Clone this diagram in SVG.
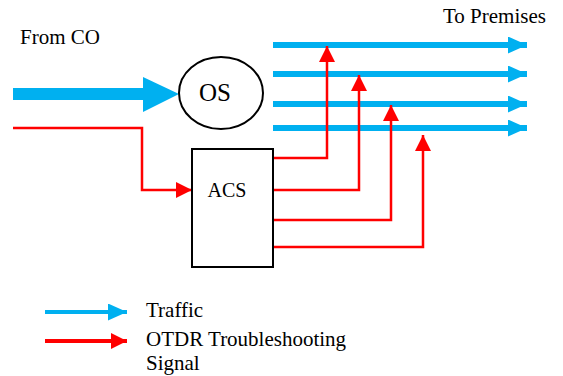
<svg xmlns="http://www.w3.org/2000/svg" width="563" height="376" viewBox="0 0 563 376">
  <style>
    .traffic { stroke: #00B0F0; fill: none; }
    .otdr { stroke: #FF0000; stroke-width: 2.5; fill: none; }
    .node { fill: #fff; stroke: #000; stroke-width: 2; }
  </style>
  <defs>
    <marker id="blueHead" markerUnits="userSpaceOnUse" markerWidth="19" markerHeight="17" refX="19" refY="8.5" orient="auto">
      <path d="M0,0 L19,8.5 L0,17 Z" fill="#00B0F0"/>
    </marker>
    <marker id="redHead" markerUnits="userSpaceOnUse" markerWidth="16" markerHeight="16" refX="16" refY="8" orient="auto">
      <path d="M0,0 L16,8 L0,16 Z" fill="#FF0000"/>
    </marker>
  </defs>

  <rect width="563" height="376" fill="#fff"/>

  <!-- connectors -->
  <g id="connectors">
    <!-- trunk feed from the central office -->
    <path d="M13,94 H144" stroke="#00B0F0" stroke-width="12" fill="none"/>
    <path d="M143,77 L179,94 L143,112 Z" fill="#00B0F0"/>

    <!-- traffic drops to premises -->
    <path class="traffic" stroke-width="6" d="M273,45 H527" marker-end="url(#blueHead)"/>
    <path class="traffic" stroke-width="6" d="M273,74 H527" marker-end="url(#blueHead)"/>
    <path class="traffic" stroke-width="6" d="M273,104 H527" marker-end="url(#blueHead)"/>
    <path class="traffic" stroke-width="6" d="M273,128 H527" marker-end="url(#blueHead)"/>

    <!-- OTDR feed into the switch -->
    <path class="otdr" d="M13,128 H142 V190 H192" marker-end="url(#redHead)"/>

    <!-- OTDR injection onto each drop -->
    <path class="otdr" d="M273,158 H327 V46" marker-end="url(#redHead)"/>
    <path class="otdr" d="M273,190 H359 V75" marker-end="url(#redHead)"/>
    <path class="otdr" d="M273,220 H391 V105" marker-end="url(#redHead)"/>
    <path class="otdr" d="M273,247 H423 V135" marker-end="url(#redHead)"/>
  </g>

  <g font-family="'Liberation Serif', 'DejaVu Serif', serif" fill="#000">
    <!-- optical splitter -->
    <g id="os">
      <ellipse class="node" cx="221" cy="93" rx="42" ry="36"/>
      <text x="215" y="101" font-size="25" text-anchor="middle">OS</text>
    </g>

    <!-- access switch -->
    <g id="acs">
      <rect class="node" x="192" y="149" width="81" height="118"/>
      <text x="227" y="197" font-size="20" text-anchor="middle">ACS</text>
    </g>

    <!-- labels -->
    <g id="labels">
      <text x="20" y="44" font-size="21">From CO</text>
      <text x="443" y="23" font-size="21">To Premises</text>
    </g>

    <!-- legend -->
    <g id="legend">
      <path class="traffic" stroke-width="4" d="M45,312 H127" marker-end="url(#blueHead)"/>
      <path stroke="#FF0000" stroke-width="4" fill="none" d="M45,341 H127" marker-end="url(#redHead)"/>
      <text x="146" y="317" font-size="21">Traffic</text>
      <text x="146" y="346" font-size="21">OTDR Troubleshooting</text>
      <text x="146" y="370" font-size="21">Signal</text>
    </g>
  </g>
</svg>
